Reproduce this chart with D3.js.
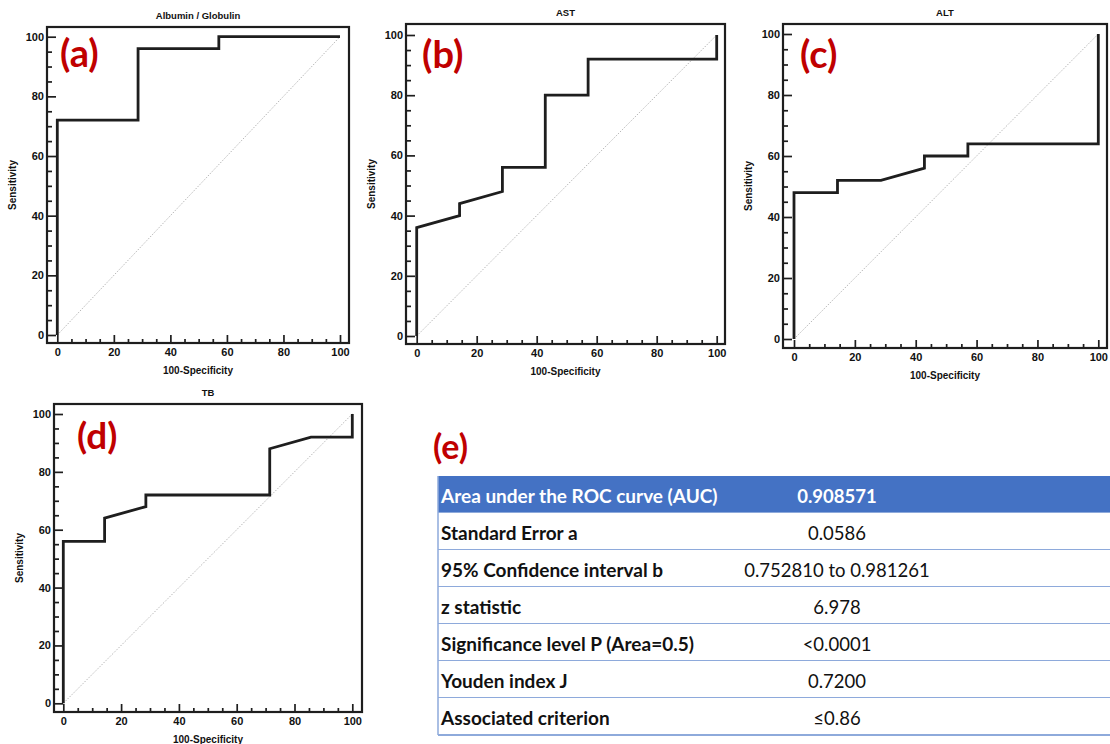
<!DOCTYPE html>
<html>
<head>
<meta charset="utf-8">
<script src="https://cdn.jsdelivr.net/npm/d3@7"></script>
<style>
    body { margin: 0; background: #fff; }
    svg { display: block; }
</style>
</head>
<body>
<svg id="figure" width="1110" height="744"></svg>
<script>
// ROC curve points, 100-Specificity (x) and Sensitivity (y)
const albuminX = [0, 0, 28.57, 28.57, 57.14, 57.14, 100];
const albuminY = [0, 72, 72, 96, 96, 100, 100];

const astX = [0, 0, 14.29, 14.29, 28.57, 28.57, 42.86, 42.86, 57.14, 57.14, 100, 100];
const astY = [0, 36, 40, 44, 48, 56, 56, 80, 80, 92, 92, 100];

const altX = [0, 0, 14.29, 14.29, 28.57, 42.86, 42.86, 57.14, 57.14, 100, 100];
const altY = [0, 48, 48, 52, 52, 56, 60, 60, 64, 64, 100];

const tbX = [0, 0, 14.29, 14.29, 28.57, 28.57, 71.43, 71.43, 85.71, 100, 100];
const tbY = [0, 56, 56, 64, 68, 72, 72, 88, 92, 92, 100];

const panelTitles = ["Albumin / Globulin", "AST", "ALT", "TB"];
const panelTags = ["(a)", "(b)", "(c)", "(d)"];
const majorTicks = [0, 20, 40, 60, 80, 100];
const minorTicks = [5, 10, 15, 25, 30, 35, 45, 50, 55, 65, 70, 75, 85, 90, 95];

const tableLabels = [
    "Area under the ROC curve (AUC)",
    "Standard Error a",
    "95% Confidence interval b",
    "z statistic",
    "Significance level P (Area=0.5)",
    "Youden index J",
    "Associated criterion"
];
const tableValues = ["0.908571", "0.0586", "0.752810 to 0.981261", "6.978", "<0.0001", "0.7200", "\u22640.86"];

// where each panel sits on the page
const layout = [
    { frame: { l: 47, t: 27, r: 349, b: 343 }, xr: [57.3, 340], yr: [335, 36.7], tag: [60, 53.5, 38] },
    { frame: { l: 406, t: 24, r: 725, b: 344 }, xr: [416.7, 716.7], yr: [336, 35], tag: [422, 55, 38] },
    { frame: { l: 783, t: 24, r: 1107, b: 348 }, xr: [794, 1098.3], yr: [339, 34], tag: [800, 54.7, 38] },
    { frame: { l: 54, t: 404, r: 362, b: 712 }, xr: [63.3, 352.3], yr: [703.3, 414], tag: [77, 436, 37] }
];

const series = [
    d3.zip(albuminX, albuminY),
    d3.zip(astX, astY),
    d3.zip(altX, altY),
    d3.zip(tbX, tbY)
];

const svg = d3.select("#figure");
svg.append("rect").attr("width", 1110).attr("height", 744).attr("fill", "#fff");

const chartFont = "'Liberation Sans', Arial, sans-serif";
const tagFont = "Lato, 'Open Sans', sans-serif";

series.forEach(function(points, i) {
    drawRoc(points, layout[i], panelTitles[i], panelTags[i]);
});

drawTable();

function drawRoc(points, box, title, tag) {
    const f = box.frame;
    const x = d3.scaleLinear().domain([0, 100]).range(box.xr);
    const y = d3.scaleLinear().domain([0, 100]).range(box.yr);
    const g = svg.append("g");

    // reference diagonal
    g.append("line")
        .attr("x1", x(0)).attr("y1", y(0))
        .attr("x2", x(100)).attr("y2", y(100))
        .attr("stroke", "#b8b8b8")
        .attr("stroke-width", 1)
        .attr("stroke-dasharray", "1.5,1.5");

    g.append("path")
        .datum(points)
        .attr("fill", "none")
        .attr("stroke", "#1e1e1e")
        .attr("stroke-width", 2.8)
        .attr("stroke-linejoin", "miter")
        .attr("d", d3.line().x(d => x(d[0])).y(d => y(d[1])));

    // axes with ticks pointing inside the frame
    g.append("g")
        .attr("transform", "translate(" + f.l + ",0)")
        .call(d3.axisLeft(y).tickValues(majorTicks).tickSizeInner(-9).tickSizeOuter(0).tickPadding(3));
    g.append("g")
        .attr("transform", "translate(" + f.l + ",0)")
        .call(d3.axisLeft(y).tickValues(minorTicks).tickSizeInner(-5).tickSizeOuter(0).tickFormat(""));

    g.append("g")
        .attr("transform", "translate(0," + f.b + ")")
        .call(d3.axisBottom(x).tickValues(majorTicks).tickSizeInner(-8).tickSizeOuter(0).tickPadding(5));
    g.append("g")
        .attr("transform", "translate(0," + f.b + ")")
        .call(d3.axisBottom(x).tickValues(minorTicks).tickSizeInner(-4).tickSizeOuter(0).tickFormat(""));

    g.selectAll(".domain").remove();
    g.selectAll(".tick line").attr("stroke", "#1e1e1e").attr("stroke-width", 1.7);
    g.selectAll(".tick text")
        .attr("fill", "#111")
        .attr("font-family", chartFont)
        .attr("font-weight", "bold")
        .attr("font-size", 11);

    g.append("rect")
        .attr("x", f.l).attr("y", f.t)
        .attr("width", f.r - f.l).attr("height", f.b - f.t)
        .attr("fill", "none")
        .attr("stroke", "#1e1e1e")
        .attr("stroke-width", 2.2);

    const cx = (f.l + f.r) / 2;
    g.append("text")
        .attr("x", cx).attr("y", f.t - 8)
        .attr("text-anchor", "middle")
        .attr("font-family", chartFont)
        .attr("font-weight", "bold")
        .attr("font-size", 9.5)
        .attr("fill", "#111")
        .text(title);

    g.append("text")
        .attr("x", cx).attr("y", f.b + 31)
        .attr("text-anchor", "middle")
        .attr("font-family", chartFont)
        .attr("font-weight", "bold")
        .attr("font-size", 10)
        .attr("fill", "#111")
        .text("100-Specificity");

    g.append("text")
        .attr("transform", "translate(" + (f.l - 31) + "," + ((f.t + f.b) / 2) + ") rotate(-90)")
        .attr("text-anchor", "middle")
        .attr("font-family", chartFont)
        .attr("font-weight", "bold")
        .attr("font-size", 10)
        .attr("fill", "#111")
        .text("Sensitivity");

    g.append("text")
        .attr("x", box.tag[0]).attr("y", box.tag[1])
        .attr("dy", "0.35em")
        .attr("font-family", tagFont)
        .attr("font-weight", "bold")
        .attr("font-size", box.tag[2])
        .attr("fill", "#c00000")
        .text(tag);
}

function drawTable() {
    const left = 438;
    const right = 1110;
    const valueCenter = 837;
    const rowY = d3.scaleBand()
        .domain(d3.range(tableLabels.length))
        .range([476, 735])
        .padding(0);

    svg.append("text")
        .attr("x", 433).attr("y", 447.5)
        .attr("dy", "0.35em")
        .attr("font-family", tagFont)
        .attr("font-weight", "bold")
        .attr("font-size", 34)
        .attr("fill", "#c00000")
        .text("(e)");

    const rows = svg.append("g")
        .selectAll("g")
        .data(tableLabels)
        .join("g")
        .attr("transform", (d, i) => "translate(0," + rowY(i) + ")");

    rows.append("rect")
        .attr("x", left).attr("width", right - left)
        .attr("height", rowY.bandwidth())
        .attr("fill", (d, i) => i === 0 ? "#4472c4" : "#fff");

    rows.append("line")
        .attr("x1", left).attr("x2", right)
        .attr("y1", rowY.bandwidth()).attr("y2", rowY.bandwidth())
        .attr("stroke", "#8eaadb")
        .attr("stroke-width", 2);

    rows.append("text")
        .attr("x", left + 3)
        .attr("y", 27)
        .attr("font-family", tagFont)
        .attr("font-weight", "bold")
        .attr("font-size", 19)
        .attr("fill", (d, i) => i === 0 ? "#fff" : "#111")
        .text(d => d);

    rows.append("text")
        .attr("x", valueCenter)
        .attr("y", 27)
        .attr("text-anchor", "middle")
        .attr("font-family", tagFont)
        .attr("font-weight", (d, i) => i === 0 ? "bold" : "normal")
        .attr("font-size", 18.5)
        .attr("fill", (d, i) => i === 0 ? "#fff" : "#111")
        .text((d, i) => tableValues[i]);

    svg.append("line")
        .attr("x1", left).attr("x2", left)
        .attr("y1", 476).attr("y2", 735)
        .attr("stroke", "#8eaadb")
        .attr("stroke-width", 1.5);
}
</script>
</body>
</html>
